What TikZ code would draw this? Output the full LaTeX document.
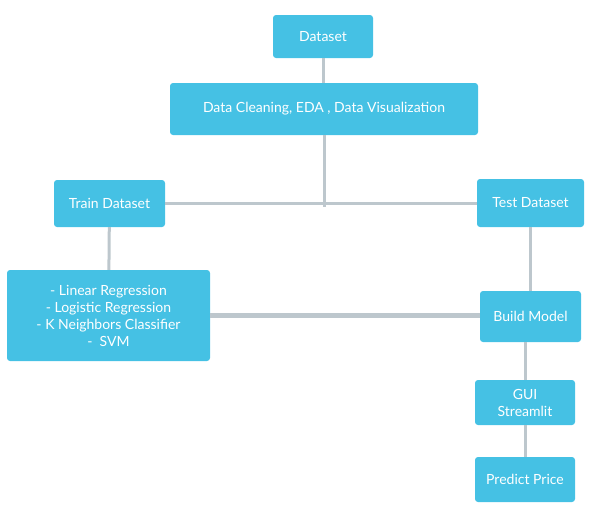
\documentclass[tikz,border=0pt]{standalone}
\usepackage{fontspec}
\setmainfont{Lato}
\usepackage{xcolor}
\definecolor{boxblue}{RGB}{69,193,228}
\definecolor{linegrey}{RGB}{189,199,205}

\begin{document}
\begin{tikzpicture}[node distance=77pt, auto]
    \tikzstyle{block} = [rectangle, fill=boxblue, text=white, text centered, rounded corners=3pt, inner sep=0pt, font=\fontsize{14}{17}\selectfont]
    \tikzstyle{link} = [draw=linegrey, line width=3pt]
    \tikzstyle{thicklink} = [draw=linegrey, line width=5pt]
    \useasboundingbox (0,0) rectangle (594pt,-515pt);

    \node[block, minimum width=100pt, minimum height=43pt] (dataset) at (323pt,-36.5pt) {Dataset};
    \node[block, minimum width=308pt, minimum height=52pt, below of=dataset, xshift=1pt, yshift=4.5pt] (clean) {Data Cleaning, EDA , Data Visualization};
    \node[block, minimum width=111pt, minimum height=47pt, below of=clean, xshift=-214.5pt, yshift=-17.5pt] (train) {Train Dataset};
    \node[block, minimum width=107pt, minimum height=48pt, below of=clean, xshift=206.5pt, yshift=-17pt] (test) {Test Dataset};
    \node[block, minimum width=203pt, minimum height=91pt, align=center, below of=train, xshift=-1pt, yshift=-35pt] (models) {- Linear Regression\\- Logistic Regression\\- K Neighbors Classifier\\-\ \ SVM};
    \node[block, minimum width=101pt, minimum height=51pt, below of=test, yshift=-36.5pt] (build) {Build Model};
    \node[block, minimum width=100pt, minimum height=45pt, align=center, below of=build, xshift=-5.5pt, yshift=-9pt] (gui) {GUI\\Streamlit};
    \node[block, minimum width=100pt, minimum height=45pt, below of=gui] (predict) {Predict Price};

    \draw[link] (dataset.south) -- (dataset.south |- clean.north);
    \draw[link] (clean.south) -- ([yshift=-3pt]clean.south |- train.east);
    \draw[link] (train.east) -- (train.east -| test.west);
    \draw[link] (train) -- (models);
    \draw[link] (test) -- (build);
    \draw[thicklink] (models.east) -- (models.east -| build.west);
    \draw[link] (gui.north) -- (gui.north |- build.south);
    \draw[link] (gui) -- (predict);

\end{tikzpicture}
\end{document}
